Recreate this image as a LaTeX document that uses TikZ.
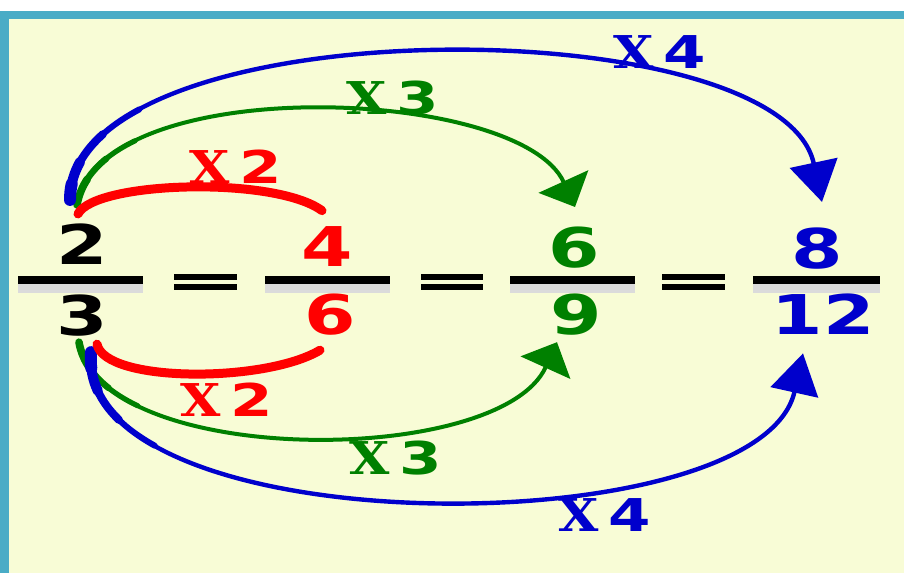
\documentclass[tikz,border=0pt]{standalone}
\usepackage{fontspec}
\setmainfont{DejaVu Sans}
\newfontfamily\numfont[FakeStretch=1.35]{DejaVu Sans}
\newfontfamily\timesfont[FakeStretch=1.15]{DejaVu Serif}
\usepackage{tikz}
\usetikzlibrary{arrows.meta, calc}
\definecolor{bgyellow}{RGB}{248,252,214}
\definecolor{frameblue}{RGB}{74,172,198}
\definecolor{xred}{RGB}{255,0,0}
\definecolor{xgreen}{RGB}{0,128,0}
\definecolor{xblue}{RGB}{0,0,204}

\newcommand{\timesby}[1]{{\timesfont\bfseries X}\hspace{5pt}{\numfont\bfseries #1}}

\begin{document}
\begin{tikzpicture}[
			x=0.5pt, y=-0.5pt,
			>=Latex,
			num/.style      = {anchor=base, inner sep=0pt, font=\numfont\bfseries\fontsize{27.4}{30}\selectfont},
			factor/.style   = {anchor=base, inner sep=0pt, font=\fontsize{22.6}{26}\selectfont},
			fracbar/.style  = {line width=4pt, black},
			barshadow/.style= {line width=6pt, black!14},
			eqline/.style   = {line width=3pt, black},
			redarc/.style   = {xred, line width=4.5pt, line cap=round},
			thick start/.style 2 args = {postaction={draw, arrows=-, line cap=round, line width=#1, dash pattern=on #2 off 3000pt}},
			greenarc/.style = {xgreen, line width=2pt, -{Triangle[length=14pt, width=27pt]},
				thick start={2.6pt}{45pt}, thick start={3.2pt}{28pt}, thick start={3.8pt}{14pt}},
			bluearc/.style  = {xblue, line width=2.2pt, -{Triangle[length=20pt, width=24pt]},
				thick start={3pt}{60pt}, thick start={4pt}{38pt}, thick start={5pt}{20pt}, thick start={6pt}{8pt}}
			]
			
			% background and frame
			\fill[bgyellow] (0,0) rectangle (904,562);
			\fill[frameblue] (0,0) rectangle (904,8);
			\fill[frameblue] (0,0) rectangle (9,562);
			
			%% ── Fraction bars and equal signs ─────────────────────────────
			\foreach \xa/\xb in {18/143, 265/390, 510/635, 753/880} {
				\draw[barshadow] (\xa,276) -- (\xb,276);
				\draw[fracbar] (\xa,269) -- (\xb,269);
			}
			\foreach \xa/\xb in {174/237, 421/483, 662/725} {
				\draw[eqline] (\xa,265.7) -- (\xb,265.7);
				\draw[eqline] (\xa,276.3) -- (\xb,276.3);
			}
			
			%% ── Numerators and denominators ───────────────────────────────
			\node[num]         (n2)  at (82,253)  {2};
			\node[num]         (n3)  at (82,324)  {3};
			\node[num, xred]   (n4)  at (327,255) {4};
			\node[num, xred]   (n6a) at (330,323) {6};
			\node[num, xgreen] (n6b) at (574,256) {6};
			\node[num, xgreen] (n9)  at (576,323) {9};
			\node[num, xblue]  (n8)  at (817,257) {8};
			\node[num, xblue]  (n12) at (823,323) {12};
			
			%% ── Arcs above (numerators) ───────────────────────────────────
			\draw[greenarc] ([shift={(-5,-18)}]n2.north) .. controls (100,60) and (520,75) .. ([shift={(1,-19)}]n6b.north);
			\draw[bluearc] ([shift={(-12,-23)}]n2.north) .. controls (70,-5) and (780,-5) .. ([shift={(5,-25)}]n8.north);
			\draw[redarc] ([shift={(-4,-9)}]n2.north) .. controls (95,170) and (275,165) .. ([shift={(-5,-15)}]n4.north);
			
			%% ── Arcs below (denominators) ─────────────────────────────────
			\draw[greenarc] ([shift={(-3,6)}]n3.south) .. controls (100,457) and (500,457) .. ([shift={(-19,7)}]n9.south);
			\draw[bluearc] ([shift={(9,16)}]n3.south) .. controls (75,536) and (760,536) .. ([shift={(-20,19)}]n12.south);
			\draw[redarc] ([shift={(15,8)}]n3.south) .. controls (105,372) and (265,372) .. ([shift={(-10,15)}]n6a.south);
			
			%% ── Factor labels ─────────────────────────────────────────────
			\node[factor, xred]   (f2t) at (236,172) {\timesby{2}};
			\node[factor, xgreen] (f3t) at (393,103) {\timesby{3}};
			\node[factor, xblue]  (f4t) at (660,58)  {\timesby{4}};
			\node[factor, xred]   (f2b) at (227,405) {\timesby{2}};
			\node[factor, xgreen] (f3b) at (396,463) {\timesby{3}};
			\node[factor, xblue]  (f4b) at (605,520) {\timesby{4}};
			
		\end{tikzpicture}
\end{document}
